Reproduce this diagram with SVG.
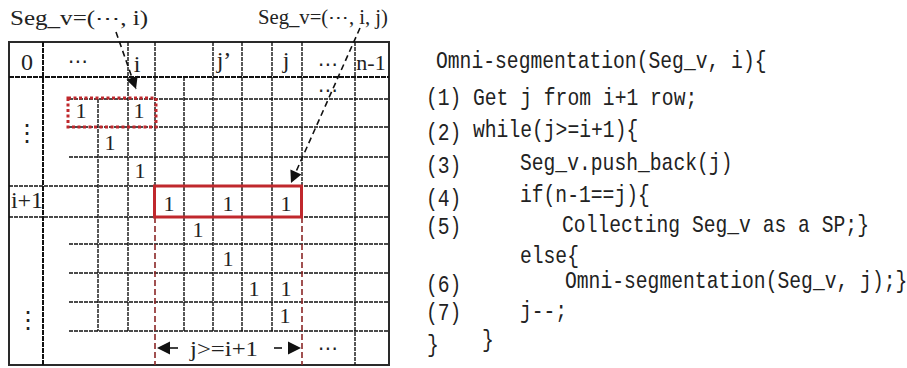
<svg xmlns="http://www.w3.org/2000/svg" width="907" height="368" viewBox="0 0 907 368">
<style>
.bg{fill:#ffffff}
.frame{fill:none;stroke:#2a2a2a;stroke-width:2}
.thick{stroke:#111;stroke-width:2;stroke-dasharray:5 1}
.grid{stroke:#111;stroke-width:1.4;stroke-dasharray:4 1}
.redbox{fill:none;stroke:#c0282d;stroke-width:3}
.reddot{fill:none;stroke:#c0282d;stroke-width:3;stroke-dasharray:3 2.5}
.reddash{stroke:#8a2626;stroke-width:1.6;stroke-dasharray:6 3}
.conn{stroke:#111;stroke-width:1.6;stroke-dasharray:6 4;fill:none}
.ser{font-family:"Liberation Serif","DejaVu Serif",serif;fill:#222}
.dots{font-family:"DejaVu Sans",sans-serif;fill:#222}
.code{font-family:"Liberation Mono","DejaVu Sans Mono",monospace;fill:#222;font-size:24px}
.one{font-size:22px;text-anchor:middle}
.hdr{font-size:24px;text-anchor:middle}
</style>
<defs>
<marker id="ah" viewBox="0 0 10 10" refX="10" refY="5" markerWidth="15" markerHeight="12" markerUnits="userSpaceOnUse" orient="auto">
<path d="M0,0 L10,5 L0,10 z" fill="#111"/>
</marker>
<marker id="ahb" viewBox="0 0 10 10" refX="10" refY="5" markerWidth="13" markerHeight="15" markerUnits="userSpaceOnUse" orient="auto">
<path d="M0,0 L10,5 L0,10 z" fill="#111"/>
</marker>
</defs>
<rect class="bg" x="0" y="0" width="907" height="368"/>

<g id="matrix">
<rect class="frame" x="9" y="42" width="380" height="323"/>
<line class="thick" x1="43" y1="42" x2="43" y2="365"/>
<line class="thick" x1="9" y1="77" x2="389" y2="77"/>
<line class="grid" x1="98" y1="99" x2="98" y2="331"/>
<line class="grid" x1="128" y1="42" x2="128" y2="331"/>
<line class="grid" x1="155" y1="42" x2="155" y2="186"/>
<line class="grid" x1="184" y1="77" x2="184" y2="331"/>
<line class="grid" x1="213" y1="42" x2="213" y2="331"/>
<line class="grid" x1="242" y1="42" x2="242" y2="331"/>
<line class="grid" x1="272" y1="42" x2="272" y2="331"/>
<line class="grid" x1="302" y1="42" x2="302" y2="186"/>
<line class="grid" x1="355" y1="42" x2="355" y2="365"/>
<line class="grid" x1="69" y1="99" x2="389" y2="99"/>
<line class="grid" x1="69" y1="127" x2="389" y2="127"/>
<line class="grid" x1="69" y1="157" x2="389" y2="157"/>
<line class="grid" x1="9" y1="186" x2="389" y2="186"/>
<line class="grid" x1="9" y1="217" x2="389" y2="217"/>
<line class="grid" x1="69" y1="244" x2="389" y2="244"/>
<line class="grid" x1="69" y1="273" x2="389" y2="273"/>
<line class="grid" x1="69" y1="302" x2="389" y2="302"/>
<line class="grid" x1="69" y1="331" x2="389" y2="331"/>
<line class="reddash" x1="155" y1="217" x2="155" y2="365"/>
<line class="reddash" x1="302" y1="217" x2="302" y2="365"/>
</g>

<g id="header-labels">
<text class="ser hdr" x="27" y="70">0</text>
<text class="dots" x="78" y="68" font-size="20" text-anchor="middle">⋯</text>
<text class="ser hdr" x="137" y="72" font-size="22">i</text>
<text class="ser hdr" x="224" y="68">j’</text>
<text class="ser hdr" x="286" y="68">j</text>
<text class="dots" x="328" y="71" font-size="20" text-anchor="middle">⋯</text>
<text class="ser" x="371" y="70" font-size="22" text-anchor="middle">n-1</text>
</g>

<g id="row-labels">
<text class="dots" x="27" y="141" font-size="24" text-anchor="middle">⋮</text>
<text class="ser" x="27" y="208" font-size="24" text-anchor="middle">i+1</text>
<text class="dots" x="28" y="328" font-size="24" text-anchor="middle">⋮</text>
</g>

<g id="cells">
<text class="dots" x="328" y="97" font-size="20" text-anchor="middle">⋯</text>
<text class="ser one" x="81" y="118">1</text>
<text class="ser one" x="139" y="118">1</text>
<text class="ser one" x="110" y="150">1</text>
<text class="ser one" x="140" y="178">1</text>
<text class="ser one" x="169" y="211">1</text>
<text class="ser one" x="228" y="211">1</text>
<text class="ser one" x="286" y="211">1</text>
<text class="ser one" x="198" y="237">1</text>
<text class="ser one" x="228" y="266">1</text>
<text class="ser one" x="254" y="296">1</text>
<text class="ser one" x="286" y="296">1</text>
<text class="ser one" x="285" y="323">1</text>
<text class="dots" x="328" y="355" font-size="20" text-anchor="middle">⋯</text>
</g>

<g id="segment-i">
<rect class="reddot" x="68" y="98" width="88" height="29"/>
</g>
<g id="segment-i1">
<rect class="redbox" x="154.5" y="186" width="147" height="31"/>
</g>

<g id="top-labels">
<text class="ser" x="10" y="25" font-size="20" textLength="138" lengthAdjust="spacingAndGlyphs">Seg_v=(⋯, i)</text>
<text class="ser" x="258" y="24" font-size="20" textLength="130" lengthAdjust="spacingAndGlyphs">Seg_v=(⋯, i, j)</text>
</g>

<g id="connectors">
<line class="conn" x1="116" y1="32" x2="136" y2="89" marker-end="url(#ah)"/>
<line class="conn" x1="360" y1="28" x2="291" y2="183" marker-end="url(#ah)"/>
<line stroke="#111" stroke-width="1.6" stroke-dasharray="8 13" x1="178" y1="348" x2="157" y2="348" marker-end="url(#ahb)"/>
<line stroke="#111" stroke-width="1.6" stroke-dasharray="8 19" x1="274" y1="348" x2="301" y2="348" marker-end="url(#ahb)"/>
<text class="ser" x="190" y="356" font-size="20" textLength="68" lengthAdjust="spacingAndGlyphs">j&gt;=i+1</text>
</g>

<g id="code" transform="matrix(0.82,0,0,1,0,0)">
<text class="code" x="531.7" y="68">Omni-segmentation(Seg_v, i){</text>
<text class="code" x="519.5" y="105">(1)</text>
<text class="code" x="576.8" y="105">Get j from i+1 row;</text>
<text class="code" x="519.5" y="140">(2)</text>
<text class="code" x="576.8" y="137">while(j&gt;=i+1){</text>
<text class="code" x="519.5" y="173">(3)</text>
<text class="code" x="634.1" y="170">Seg_v.push_back(j)</text>
<text class="code" x="519.5" y="206">(4)</text>
<text class="code" x="634.1" y="202">if(n-1==j){</text>
<text class="code" x="519.5" y="234">(5)</text>
<text class="code" x="685.4" y="232">Collecting Seg_v as a SP;}</text>
<text class="code" x="634.1" y="263">else{</text>
<text class="code" x="519.5" y="292">(6)</text>
<text class="code" x="689" y="288">Omni-segmentation(Seg_v, j);}</text>
<text class="code" x="519.5" y="320">(7)</text>
<text class="code" x="634.1" y="318">j--;</text>
<text class="code" x="520.7" y="352">}</text>
<text class="code" x="587.8" y="347">}</text>
</g>
</svg>
